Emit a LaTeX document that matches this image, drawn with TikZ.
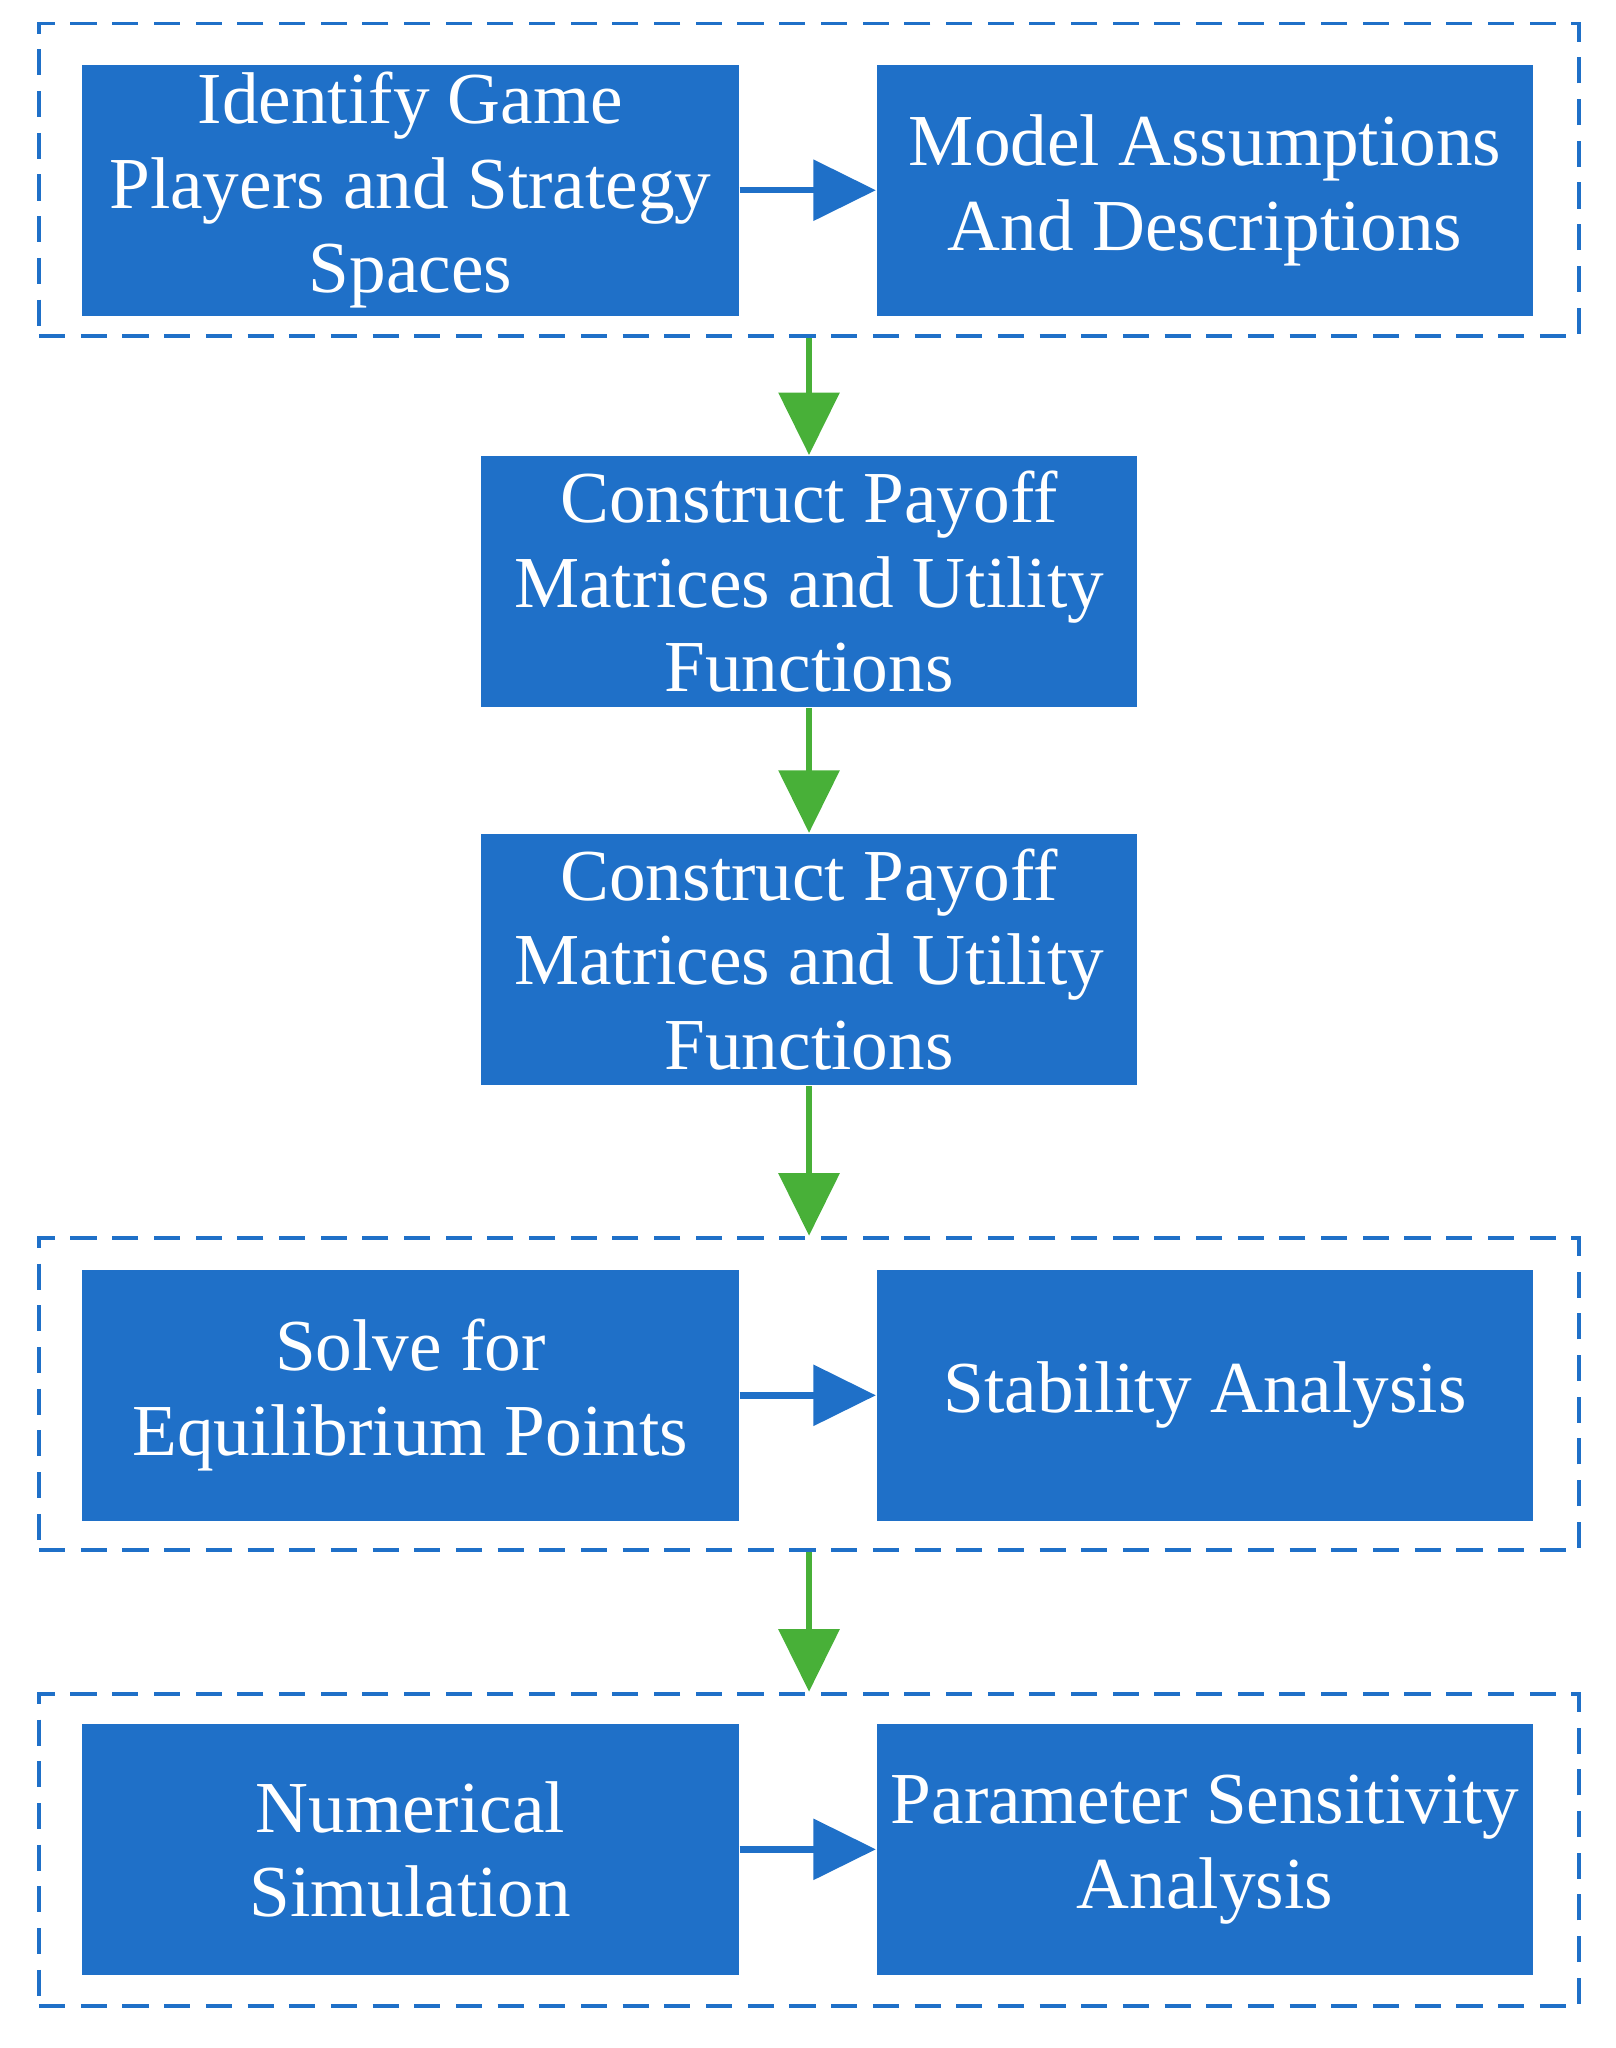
\documentclass[tikz,border=0pt]{standalone}
\usepackage{fontspec}
\setmainfont{Liberation Serif}
\usetikzlibrary{arrows.meta}
\definecolor{boxblue}{RGB}{31,112,200}
\definecolor{arrgreen}{RGB}{72,176,56}
\tikzset{
task/.style={draw=none, fill=boxblue, text=white, align=center, minimum width=5.04cm, minimum height=1.93cm, inner sep=0pt, font=\fontsize{16}{18.5}\selectfont}, % blue process box
group/.style={draw=boxblue, line width=0.03cm, dash pattern=on 0.2cm off 0.12cm, minimum width=11.82cm, minimum height=2.4cm, inner sep=0pt}, % dashed frame
flow/.style={-{Triangle[width=0.46cm,length=0.48cm]}, arrgreen, line width=0.05cm}, % green down arrow
link/.style={-{Triangle[width=0.46cm,length=0.48cm]}, boxblue, line width=0.05cm}, % blue side arrow
}
\begin{document}
\begin{tikzpicture}
\useasboundingbox (0,0) rectangle (12.4,-15.72);
% frames
\node[group] (G1) at (6.21,-1.38) {};
\node[group] (G2) at (6.21,-10.70) {};
\node[group] (G3) at (6.21,-14.20) {};
% boxes
\node[task] (ident) at (3.15,-1.46) {Identify Game\\Players and Strategy\\Spaces};
\node[task] (model) at (9.25,-1.46) {Model Assumptions\\And Descriptions};
\node[task] (pay1) at (6.21,-4.465) {Construct Payoff\\Matrices and Utility\\Functions};
\node[task] (pay2) at (6.21,-7.365) {Construct Payoff\\Matrices and Utility\\Functions};
\node[task] (solve) at (3.15,-10.71) {Solve for\\Equilibrium Points};
\node[task] (stab) at (9.25,-10.71) {Stability Analysis};
\node[task] (num) at (3.15,-14.195) {Numerical\\Simulation};
\node[task] (param) at (9.25,-14.195) {Parameter Sensitivity\\Analysis};
% arrows
\draw[link] (ident) -- (model);
\draw[link] (solve) -- (stab);
\draw[link] (num) -- (param);
\draw[flow] (G1.south) -- (pay1.north);
\draw[flow] (pay1.south) -- (pay2.north);
\draw[flow] (pay2.south) -- (G2.north);
\draw[flow] (G2.south) -- (G3.north);
\end{tikzpicture}
\end{document}
